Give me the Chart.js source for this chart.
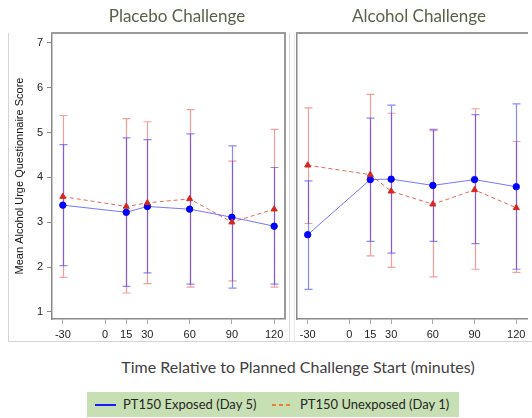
<!DOCTYPE html>
<html>
<head>
<meta charset="utf-8">
<script src="https://cdn.jsdelivr.net/npm/chart.js@4.4.1/dist/chart.umd.min.js"></script>
<style>
  body { margin: 0; background: #fff; }
  #wrap { position: relative; width: 532px; height: 418px; overflow: hidden; font-family: Lato, "Open Sans", sans-serif; }
  .panel-title { position: absolute; top: 5px; font-size: 17px; color: #58624a; transform: translateX(-50%); white-space: nowrap; }
  #frame { position: absolute; left: 8px; top: 33px; width: 540px; height: 308px; border-left: 1px solid #d4d4d4; border-bottom: 1px solid #d4d4d4; }
  #gap { position: absolute; left: 289px; top: 33px; width: 4px; height: 308px; border-left: 1px solid #dcdcdc; border-right: 1px solid #ececec; }
  canvas { position: absolute; top: 0; }
  #xtitle { position: absolute; left: 298px; top: 357px; transform: translateX(-50%); font-size: 16px; color: #404040; white-space: nowrap; }
  #legend { position: absolute; left: 87px; top: 392px; width: 372px; height: 25px; background: #c6e0b4; font-size: 13px; color: #262626; }
  .lg { position: absolute; top: 4px; white-space: nowrap; }
  .sw { position: absolute; top: 12px; width: 21px; height: 2px; }
</style>
</head>
<body>
<div id="wrap">
  <div id="frame"></div>
  <div id="gap"></div>
  <canvas id="placebo" width="290" height="345" style="left:0px;width:290px;height:345px"></canvas>
  <canvas id="alcohol" width="243" height="345" style="left:289px;width:243px;height:345px"></canvas>
  <div class="panel-title" style="left:177px">Placebo Challenge</div>
  <div class="panel-title" style="left:419px">Alcohol Challenge</div>
  <div id="xtitle">Time Relative to Planned Challenge Start (minutes)</div>
  <div id="legend">
    <div class="sw" style="left:8px;background:#1a1aff"></div>
    <div class="lg" style="left:36px">PT150 Exposed (Day 5)</div>
    <div class="sw" style="left:185px;width:18px;background:repeating-linear-gradient(90deg,#ed7d31 0 4px,transparent 4px 7px)"></div>
    <div class="lg" style="left:213px">PT150 Unexposed (Day 1)</div>
  </div>
</div>
<script>
// time points (minutes) and axis ticks
const timePoints = [-30, 15, 30, 60, 90, 120];
const xTickValues = [-30, 0, 15, 30, 60, 90, 120];
const yTickValues = [1, 2, 3, 4, 5, 6, 7];

// Placebo challenge
const placeboExposedMean = [3.38, 3.22, 3.35, 3.29, 3.11, 2.91];
const placeboExposedLow = [2.03, 1.57, 1.87, 1.62, 1.53, 1.62];
const placeboExposedHigh = [4.73, 4.88, 4.84, 4.97, 4.70, 4.22];
const placeboUnexposedMean = [3.57, 3.35, 3.43, 3.52, 3.00, 3.29];
const placeboUnexposedLow = [1.77, 1.42, 1.63, 1.55, 1.69, 1.55];
const placeboUnexposedHigh = [5.38, 5.31, 5.24, 5.51, 4.36, 5.07];

// Alcohol challenge
const alcoholExposedMean = [2.72, 3.95, 3.96, 3.82, 3.95, 3.79];
const alcoholExposedLow = [1.50, 2.57, 2.31, 2.57, 2.52, 1.95];
const alcoholExposedHigh = [3.92, 5.32, 5.61, 5.07, 5.40, 5.64];
const alcoholUnexposedMean = [4.27, 4.06, 3.69, 3.40, 3.72, 3.32];
const alcoholUnexposedLow = [2.97, 2.25, 1.99, 1.78, 1.95, 1.88];
const alcoholUnexposedHigh = [5.55, 5.85, 5.43, 5.04, 5.53, 4.80];

const X_MIN = -37.7, X_MAX = 127.7;
const Y_MIN = 0.84, Y_MAX = 7.22;

function toPoints(means) {
  return timePoints.map((t, i) => ({ x: t, y: means[i] }));
}

// draws vertical error bars with caps using the chart scales
const errorBars = {
  id: 'errorBars',
  beforeDatasetsDraw(chart) {
    const ctx = chart.ctx;
    const xs = chart.scales.x, ys = chart.scales.y;
    chart.data.datasets.forEach(ds => {
      if (!ds.errLow) return;
      ctx.save();
      ctx.strokeStyle = ds.errColor;
      ctx.lineWidth = 1.2;
      timePoints.forEach((t, i) => {
        const px = Math.round(xs.getPixelForValue(t)) + 0.5;
        const lo = ys.getPixelForValue(ds.errLow[i]);
        const hi = ys.getPixelForValue(ds.errHigh[i]);
        ctx.beginPath();
        ctx.moveTo(px, lo); ctx.lineTo(px, hi);
        ctx.moveTo(px - 4, lo); ctx.lineTo(px + 4, lo);
        ctx.moveTo(px - 4, hi); ctx.lineTo(px + 4, hi);
        ctx.stroke();
      });
      ctx.restore();
    });
  }
};

// top / right border of the plotting box
const boxLines = {
  id: 'boxLines',
  afterDraw(chart, args, opts) {
    const { ctx, chartArea: a } = chart;
    ctx.save();
    ctx.strokeStyle = '#9a9a9a';
    ctx.lineWidth = 2;
    ctx.beginPath();
    ctx.moveTo(a.left - 1, a.top); ctx.lineTo(a.right + 1, a.top);
    if (opts.right) { ctx.moveTo(a.right, a.top); ctx.lineTo(a.right, a.bottom); }
    ctx.stroke();
    ctx.restore();
  }
};

function makeDatasets(expMean, expLow, expHigh, unMean, unLow, unHigh) {
  return [
    {
      label: 'PT150 Unexposed (Day 1)',
      data: toPoints(unMean),
      errLow: unLow, errHigh: unHigh,
      errColor: 'rgba(225,40,40,0.45)',
      borderColor: 'rgba(225,50,40,0.75)',
      borderWidth: 1,
      borderDash: [4, 3],
      pointStyle: 'triangle',
      pointRadius: 3.5,
      pointBackgroundColor: '#d9261c',
      pointBorderColor: '#d9261c',
      tension: 0
    },
    {
      label: 'PT150 Exposed (Day 5)',
      data: toPoints(expMean),
      errLow: expLow, errHigh: expHigh,
      errColor: 'rgba(40,40,245,0.55)',
      borderColor: 'rgba(60,60,255,0.7)',
      borderWidth: 1,
      pointStyle: 'circle',
      pointRadius: 3.2,
      pointBackgroundColor: '#0000ff',
      pointBorderColor: '#0000ff',
      tension: 0
    }
  ];
}

function makeChart(id, datasets, showY) {
  const tickFont = { family: 'Liberation Sans, Arial, sans-serif', size: 11 };
  return new Chart(document.getElementById(id), {
    type: 'line',
    data: { datasets: datasets },
    options: {
      responsive: false,
      animation: false,
      layout: { padding: { left: 8, top: 33, right: showY ? 2 : 0, bottom: 0 } },
      plugins: { legend: { display: false }, tooltip: { enabled: false }, boxLines: { right: showY } },
      scales: {
        x: {
          type: 'linear',
          min: X_MIN, max: X_MAX,
          afterBuildTicks: s => { s.ticks = xTickValues.map(v => ({ value: v })); },
          afterFit: s => { s.height = 26; },
          grid: { drawOnChartArea: false, drawTicks: true, tickLength: 5, color: '#aaa' },
          border: { color: '#8a8a8a', width: 1.5 },
          ticks: { font: tickFont, color: '#222', padding: 4, maxRotation: 0 }
        },
        y: {
          min: Y_MIN, max: Y_MAX,
          afterBuildTicks: s => { s.ticks = yTickValues.map(v => ({ value: v })); },
          afterFit: s => { s.width = showY ? 44 : 0; },
          grid: { drawOnChartArea: false, drawTicks: showY, tickLength: 5, color: '#888' },
          border: { color: '#8a8a8a', width: 1.5 },
          ticks: { display: showY, font: tickFont, color: '#222', padding: 4 },
          title: {
            display: showY,
            text: 'Mean Alcohol Urge Questionnaire Score',
            font: { family: 'Liberation Sans, Arial, sans-serif', size: 11 },
            color: '#111',
            padding: { top: 5, bottom: 0 }
          }
        }
      }
    },
    plugins: [errorBars, boxLines]
  });
}

makeChart('placebo', makeDatasets(placeboExposedMean, placeboExposedLow, placeboExposedHigh,
  placeboUnexposedMean, placeboUnexposedLow, placeboUnexposedHigh), true);
makeChart('alcohol', makeDatasets(alcoholExposedMean, alcoholExposedLow, alcoholExposedHigh,
  alcoholUnexposedMean, alcoholUnexposedLow, alcoholUnexposedHigh), false);
</script>
</body>
</html>
